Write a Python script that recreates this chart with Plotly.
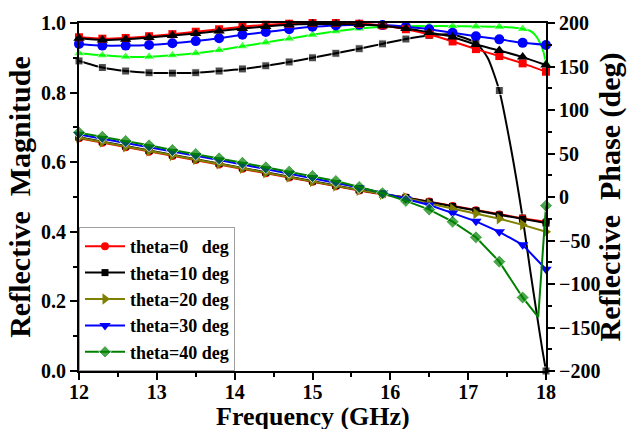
import plotly.graph_objects as go

# ---- data ----
freq = [12.0, 12.3, 12.6, 12.9, 13.2, 13.5, 13.8, 14.1, 14.4, 14.7, 15.0,
        15.3, 15.6, 15.9, 16.2, 16.5, 16.8, 17.1, 17.4, 17.7, 18.0]

# Reflective magnitude curves (left axis)
mag_red = [0.959, 0.955, 0.957, 0.962, 0.968, 0.975, 0.982, 0.989, 0.995, 0.998, 1.0,
           1.0, 0.998, 0.993, 0.982, 0.967, 0.947, 0.925, 0.905, 0.884, 0.860]
mag_black_tri = [0.956, 0.951, 0.953, 0.958, 0.964, 0.970, 0.977, 0.984, 0.990, 0.995, 0.997,
                 0.997, 0.996, 0.992, 0.984, 0.973, 0.960, 0.938, 0.921, 0.902, 0.879]
mag_blue = [0.940, 0.935, 0.935, 0.937, 0.942, 0.948, 0.956, 0.966, 0.974, 0.982, 0.989,
            0.993, 0.995, 0.994, 0.989, 0.982, 0.972, 0.962, 0.953, 0.943, 0.937]
mag_lime_x = freq[:20] + [17.8, 17.86, 17.93, 17.97, 18.0]
mag_lime = [0.913, 0.907, 0.903, 0.903, 0.907, 0.913, 0.922, 0.933, 0.944, 0.955, 0.966,
            0.976, 0.984, 0.989, 0.991, 0.991, 0.991, 0.990, 0.989, 0.983,
            0.977, 0.966, 0.940, 0.915, 0.884]
mag_lime_marked = [True] * 20 + [False, False, False, False, True]
mag_sq_x = freq[:18] + [17.25, 17.4, 17.55, 17.7, 17.8, 17.9, 17.95, 18.0]
mag_sq = [0.891, 0.872, 0.862, 0.857, 0.856, 0.857, 0.862, 0.868, 0.877, 0.888, 0.900,
          0.913, 0.926, 0.940, 0.954, 0.964, 0.967, 0.943,
          0.900, 0.806, 0.640, 0.440, 0.285, 0.137, 0.065, 0.0]
mag_sq_marked = [True] * 18 + [False, True, False, True, False, False, False, True]

# Reflective phase curves (right axis)
phase_x40 = freq[:20] + [17.9, 18.0]
phase_t0 = [67.5, 62.4, 57.2, 52.1, 47.1, 42.4, 37.5, 32.5, 27.3, 22.3, 17.4,
            12.3, 7.5, 3.0, -0.5, -5.3, -10.3, -15.2, -20.0, -24.6, -28.5]
phase_t10 = [68.8, 63.7, 58.5, 53.4, 48.4, 43.6, 38.7, 33.6, 28.4, 23.4, 18.4,
             13.2, 8.1, 3.4, -0.5, -5.8, -10.8, -15.8, -20.7, -25.6, -30.0]
phase_t20 = [68.2, 63.1, 57.9, 52.8, 47.8, 43.0, 38.1, 33.0, 27.9, 22.9, 17.9,
             12.8, 7.9, 3.2, -1.0, -7.5, -13.5, -19.0, -25.0, -32.0, -40.0]
phase_t30 = [72.0, 67.2, 62.2, 57.2, 52.2, 47.4, 42.5, 37.4, 32.2, 27.2, 22.2,
             16.8, 11.0, 4.5, -2.0, -9.2, -18.5, -28.0, -40.0, -55.0, -83.0]
phase_t40 = [74.0, 69.3, 64.4, 59.4, 54.0, 49.4, 44.5, 39.4, 34.1, 29.1, 24.1,
             18.4, 11.5, 4.3, -4.5, -14.5, -28.4, -46.3, -74.3, -115.5, -138.0, -10.0]
phase_t40_marked = [True] * 20 + [False, True]

legend_names = ["theta=0\u00a0\u00a0\u00a0deg", "theta=10 deg", "theta=20 deg",
                "theta=30 deg", "theta=40 deg"]
x_title = "Frequency (GHz)"

FONT = "Liberation Serif"

fig = go.Figure()


def sizes(marked, s):
    return [s if m else 0 for m in marked]


# magnitude traces (no legend)
fig.add_trace(go.Scatter(x=mag_sq_x, y=mag_sq, mode="lines+markers", showlegend=False,
                         line=dict(color="black", width=2, shape="spline", smoothing=0.6),
                         marker=dict(symbol="square", size=sizes(mag_sq_marked, 8), color="black"),
                         cliponaxis=False))
fig.add_trace(go.Scatter(x=mag_lime_x, y=mag_lime, mode="lines+markers", showlegend=False,
                         line=dict(color="#00ff00", width=2, shape="spline", smoothing=0.6),
                         marker=dict(symbol="triangle-up", size=sizes(mag_lime_marked, 10), color="#00ff00"),
                         cliponaxis=False))
fig.add_trace(go.Scatter(x=freq, y=mag_blue, mode="lines+markers", showlegend=False,
                         line=dict(color="#0000ff", width=2, shape="spline", smoothing=0.6),
                         marker=dict(symbol="circle", size=10, color="#0000ff"),
                         cliponaxis=False))
fig.add_trace(go.Scatter(x=freq, y=mag_red, mode="lines+markers", showlegend=False,
                         line=dict(color="#ff0000", width=2, shape="spline", smoothing=0.6),
                         marker=dict(symbol="square", size=8, color="#ff0000"),
                         cliponaxis=False))
fig.add_trace(go.Scatter(x=freq, y=mag_black_tri, mode="lines+markers", showlegend=False,
                         line=dict(color="black", width=2, shape="spline", smoothing=0.6),
                         marker=dict(symbol="triangle-up", size=10, color="black"),
                         cliponaxis=False))

# phase traces (legend)
fig.add_trace(go.Scatter(x=freq, y=phase_t0, yaxis="y2", mode="lines+markers", name=legend_names[0],
                         line=dict(color="#ff0000", width=2),
                         marker=dict(symbol="circle", size=8, color="#ff0000"), cliponaxis=False))
fig.add_trace(go.Scatter(x=freq, y=phase_t10, yaxis="y2", mode="lines+markers", name=legend_names[1],
                         line=dict(color="black", width=2),
                         marker=dict(symbol="square", size=7, color="black"), cliponaxis=False))
fig.add_trace(go.Scatter(x=freq, y=phase_t20, yaxis="y2", mode="lines+markers", name=legend_names[2],
                         line=dict(color="#808000", width=2),
                         marker=dict(symbol="triangle-right", size=10, color="#808000"), cliponaxis=False))
fig.add_trace(go.Scatter(x=freq, y=phase_t30, yaxis="y2", mode="lines+markers", name=legend_names[3],
                         line=dict(color="#0000ff", width=2),
                         marker=dict(symbol="triangle-down", size=10, color="#0000ff"), cliponaxis=False))
fig.add_trace(go.Scatter(x=phase_x40, y=phase_t40, yaxis="y2", mode="lines+markers", name=legend_names[4],
                         line=dict(color="#008000", width=2),
                         marker=dict(symbol="diamond", size=sizes(phase_t40_marked, 10), color="#008000"),
                         cliponaxis=False))

tickfont = dict(family=FONT, size=20, color="black", weight="bold")
xtitlefont = dict(family=FONT, size=26, color="black", weight="bold")
ytitlefont = dict(family=FONT, size=30, color="black", weight="bold")

fig.update_layout(
    width=627, height=429,
    margin=dict(l=79, r=81, t=23, b=58, autoexpand=False),
    paper_bgcolor="white", plot_bgcolor="white",
    font=dict(family=FONT, color="black"),
    xaxis=dict(range=[12, 18], tickmode="array", tickvals=[12, 13, 14, 15, 16, 17, 18],
               showline=True, linecolor="black", linewidth=2, mirror=True,
               ticks="outside", ticklen=7, tickwidth=2, tickcolor="black",
               minor=dict(dtick=0.5, ticks="outside", ticklen=4, tickwidth=2, tickcolor="black"),
               showgrid=False, zeroline=False, tickfont=tickfont, automargin=False,
               ticklabelstandoff=-5),
    yaxis=dict(range=[0, 1], tickmode="array", tickvals=[0, 0.2, 0.4, 0.6, 0.8, 1.0],
               ticktext=["0.0", "0.2", "0.4", "0.6", "0.8", "1.0"],
               showline=True, linecolor="black", linewidth=2,
               ticks="outside", ticklen=7, tickwidth=2, tickcolor="black",
               minor=dict(dtick=0.1, ticks="outside", ticklen=4, tickwidth=2, tickcolor="black"),
               showgrid=False, zeroline=False, tickfont=tickfont, automargin=False,
               title=dict(text="Reflective\u00a0\u00a0Magnitude", font=ytitlefont, standoff=2)),
    yaxis2=dict(range=[-200, 200], overlaying="y", side="right", tickmode="array",
                tickvals=[-200, -150, -100, -50, 0, 50, 100, 150, 200],
                showline=True, linecolor="black", linewidth=2,
                ticks="outside", ticklen=7, tickwidth=2, tickcolor="black",
                minor=dict(dtick=25, ticks="outside", ticklen=4, tickwidth=2, tickcolor="black"),
                showgrid=False, zeroline=False, tickfont=tickfont, automargin=False,
                title=dict(text="Reflective\u00a0\u00a0Phase (deg)", font=ytitlefont, standoff=2)),
    legend=dict(x=0, y=0, xanchor="left", yanchor="bottom",
                bgcolor="white", bordercolor="#a0a0a0", borderwidth=1,
                font=dict(family=FONT, size=18, color="black", weight="bold"),
                tracegroupgap=0, itemwidth=40),
    annotations=[dict(text=x_title, xref="paper", yref="paper", x=0.5, y=-0.132,
                      xanchor="center", yanchor="middle", showarrow=False, font=xtitlefont)],
)

fig.write_html("out.html", config={"displayModeBar": False},
               post_script="document.body.style.margin='0';document.body.style.overflow='hidden';")
